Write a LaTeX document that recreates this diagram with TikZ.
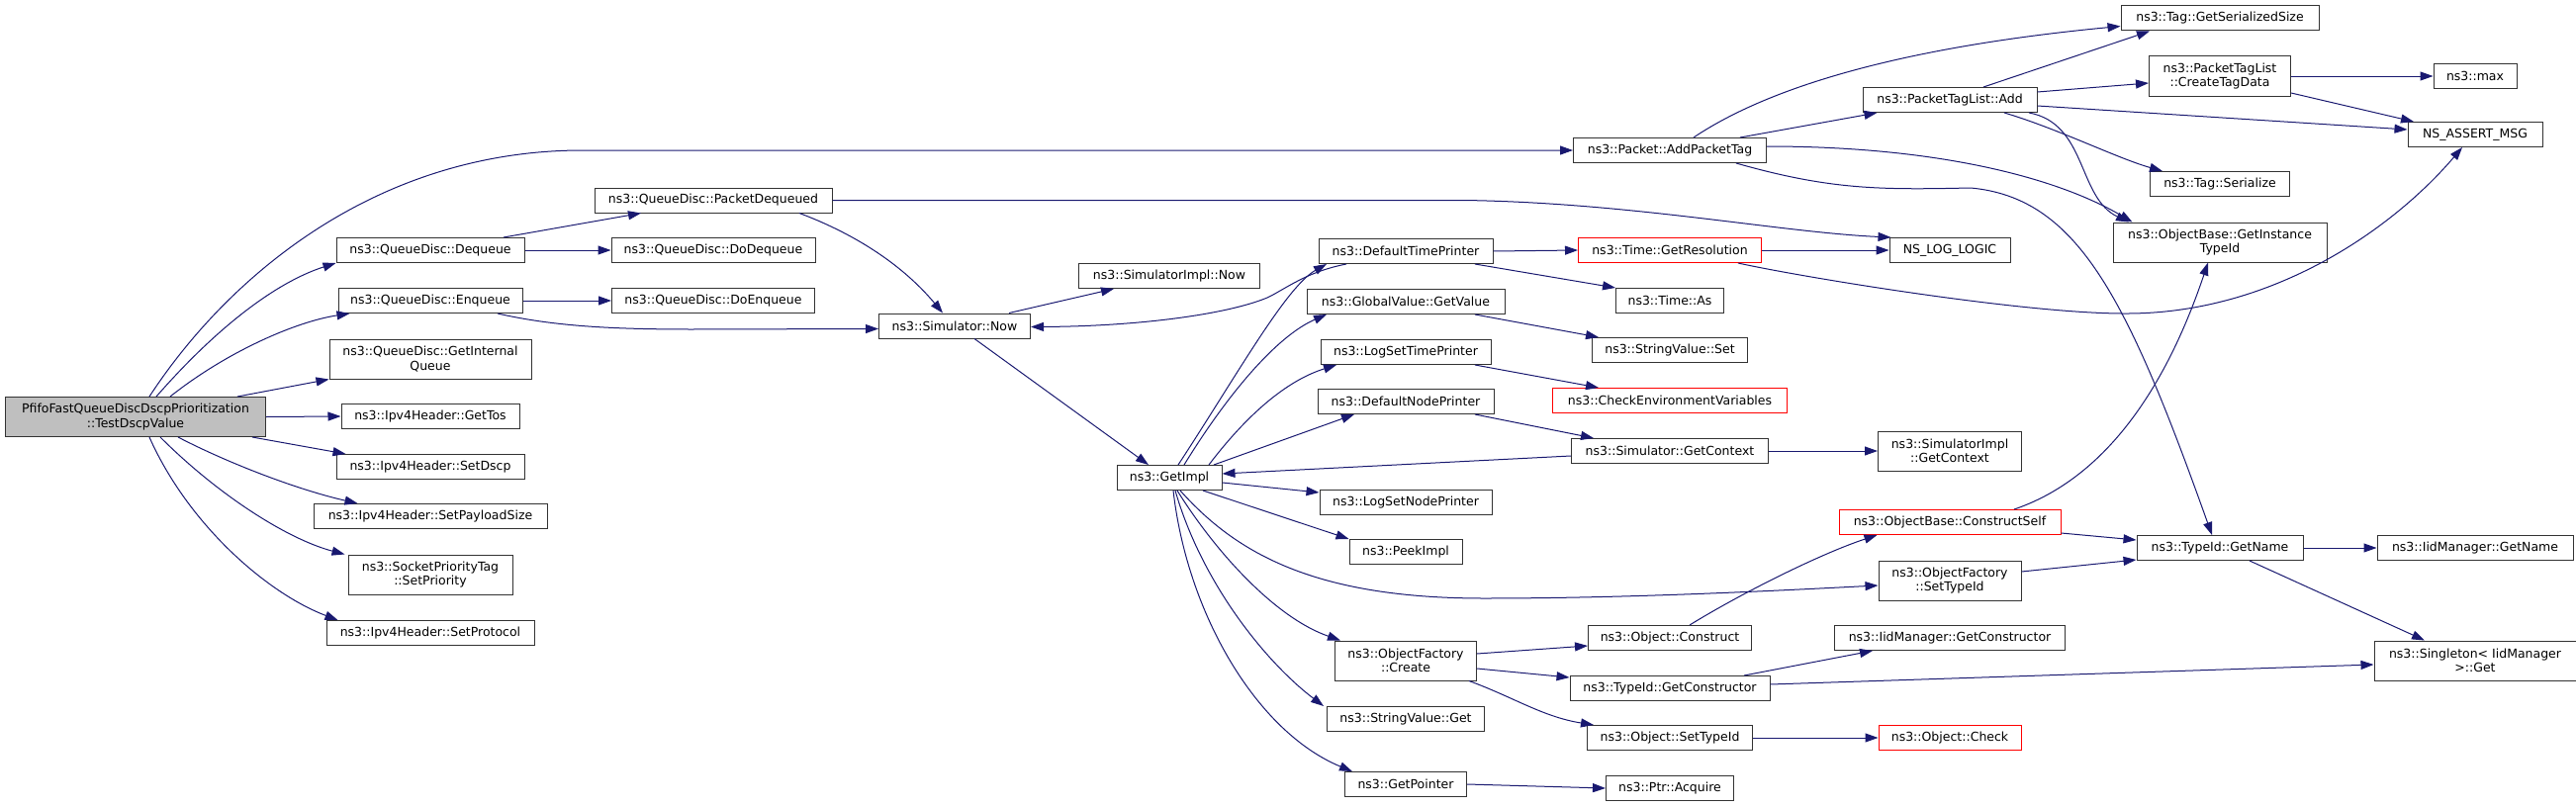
\documentclass[tikz,border=0pt]{standalone}
\usepackage{fontspec}
\setmainfont{DejaVu Sans}
\usetikzlibrary{arrows.meta}
\definecolor{edgeblue}{HTML}{191970}
\definecolor{rootgray}{HTML}{BFBFBF}

\begin{document}
\begin{tikzpicture}[x=1pt, y=-1pt,
    fn/.style={draw=black!80, line width=1pt, fill=white, minimum height=25pt, inner sep=2pt, align=center, font=\fontsize{12.5}{14.5}\selectfont},
    fn2/.style={fn, minimum height=40pt},
    hot/.style={draw=red},
    call/.style={-{Triangle[length=13pt,width=9pt]}, edgeblue, line width=1pt}
]
\useasboundingbox (0,0) rectangle (2604,816);

\node[fn2, fill=rootgray, minimum width=263pt] (root) at (137,421.5) {PfifoFastQueueDiscDscpPrioritization\\::TestDscpValue};

\node[fn, minimum width=190pt] (deq) at (435,253) {ns3::QueueDisc::Dequeue};
\node[fn, minimum width=186pt] (enq) at (435,304) {ns3::QueueDisc::Enqueue};
\node[fn2, minimum width=204pt] (gint) at (435,363) {ns3::QueueDisc::GetInternal\\Queue};
\node[fn, minimum width=180pt] (gettos) at (435,421) {ns3::Ipv4Header::GetTos};
\node[fn, minimum width=190pt] (setdscp) at (435,472) {ns3::Ipv4Header::SetDscp};
\node[fn, minimum width=236pt] (setpay) at (435,522) {ns3::Ipv4Header::SetPayloadSize};
\node[fn2, minimum width=166pt] (setprio) at (435,581) {ns3::SocketPriorityTag\\::SetPriority};
\node[fn, minimum width=210pt] (setproto) at (435,640) {ns3::Ipv4Header::SetProtocol};

\node[fn, minimum width=240pt] (pdeq) at (721,202.5) {ns3::QueueDisc::PacketDequeued};
\node[fn, minimum width=206pt] (dodeq) at (721,253) {ns3::QueueDisc::DoDequeue};
\node[fn, minimum width=205pt] (doenq) at (721,304) {ns3::QueueDisc::DoEnqueue};

\node[fn, minimum width=153pt] (simnow) at (965,329.5) {ns3::Simulator::Now};
\node[fn, minimum width=183pt] (implnow) at (1182,279) {ns3::SimulatorImpl::Now};
\node[fn, minimum width=106pt] (getimpl) at (1182,483) {ns3::GetImpl};

\node[fn, minimum width=176pt] (dtp) at (1421,254) {ns3::DefaultTimePrinter};
\node[fn, minimum width=200pt] (gval) at (1421,305) {ns3::GlobalValue::GetValue};
\node[fn, minimum width=172pt] (lstp) at (1421,356) {ns3::LogSetTimePrinter};
\node[fn, minimum width=178pt] (dnp) at (1421,406) {ns3::DefaultNodePrinter};
\node[fn, minimum width=174pt] (lsnp) at (1421,508) {ns3::LogSetNodePrinter};
\node[fn, minimum width=114pt] (peek) at (1421,558) {ns3::PeekImpl};
\node[fn2, minimum width=143pt] (ofcreate) at (1421,668) {ns3::ObjectFactory\\::Create};
\node[fn, minimum width=159pt] (svget) at (1421,727) {ns3::StringValue::Get};
\node[fn, minimum width=123pt] (getptr) at (1421,793) {ns3::GetPointer};

\node[fn, minimum width=195pt] (addtag) at (1688,152) {ns3::Packet::AddPacketTag};
\node[fn, hot, minimum width=185pt] (getres) at (1688,253) {ns3::Time::GetResolution};
\node[fn, minimum width=109pt] (timeas) at (1688,304) {ns3::Time::As};
\node[fn, minimum width=157pt] (svset) at (1688,354) {ns3::StringValue::Set};
\node[fn, hot, minimum width=237pt] (checkenv) at (1688,405) {ns3::CheckEnvironmentVariables};
\node[fn, minimum width=199pt] (getctx) at (1688,456) {ns3::Simulator::GetContext};
\node[fn, minimum width=165pt] (construct) at (1688,645) {ns3::Object::Construct};
\node[fn, minimum width=202pt] (getctor) at (1688,696) {ns3::TypeId::GetConstructor};
\node[fn, minimum width=167pt] (settid) at (1688,746) {ns3::Object::SetTypeId};
\node[fn, minimum width=129pt] (acquire) at (1688,797) {ns3::Ptr::Acquire};

\node[fn, minimum width=176pt] (ptladd) at (1971,101) {ns3::PacketTagList::Add};
\node[fn, minimum width=122pt] (nslog) at (1971,253) {NS\_LOG\_LOGIC};
\node[fn2, minimum width=145pt] (implctx) at (1971,456) {ns3::SimulatorImpl\\::GetContext};
\node[fn, hot, minimum width=224pt] (cself) at (1971,528) {ns3::ObjectBase::ConstructSelf};
\node[fn2, minimum width=144pt] (ofsettid) at (1971,587) {ns3::ObjectFactory\\::SetTypeId};
\node[fn, minimum width=233pt] (iidctor) at (1971,645) {ns3::IidManager::GetConstructor};
\node[fn, hot, minimum width=144pt] (check) at (1971,746) {ns3::Object::Check};

\node[fn, minimum width=200pt] (gss) at (2244,18.5) {ns3::Tag::GetSerializedSize};
\node[fn2, minimum width=143pt] (ctd) at (2244,77) {ns3::PacketTagList\\::CreateTagData};
\node[fn, minimum width=141pt] (tagser) at (2244,186) {ns3::Tag::Serialize};
\node[fn2, minimum width=216pt] (gitid) at (2244,245) {ns3::ObjectBase::GetInstance\\TypeId};
\node[fn, minimum width=168pt] (tidname) at (2244,554) {ns3::TypeId::GetName};

\node[fn, minimum width=84pt] (max) at (2502,77) {ns3::max};
\node[fn, minimum width=136pt] (assert) at (2502,136) {NS\_ASSERT\_MSG};
\node[fn, minimum width=198pt] (iidname) at (2502,554) {ns3::IidManager::GetName};
\node[fn2, minimum width=204pt] (singleton) at (2502,668) {ns3::Singleton< IidManager\\>::Get};

\draw[call] ([xshift=14pt]root.north) .. controls (230,280) and (380,152) .. (589,152) -- (addtag.west);
\draw[call] ([xshift=21pt]root.north) .. controls (220,330) and (280,285) .. (deq.south west);
\draw[call] ([xshift=35pt]root.north) .. controls (230,355) and (300,325) .. ([xshift=12pt]enq.south west);
\draw[call] ([xshift=103pt]root.north) -- (gint.south west);
\draw[call] (root.east) -- (gettos.west);
\draw[call] ([xshift=118pt]root.south) -- ([xshift=10pt]setdscp.north west);
\draw[call] ([xshift=43pt]root.south) .. controls (230,468) and (300,495) .. ([xshift=45pt]setpay.north west);
\draw[call] ([xshift=25pt]root.south) .. controls (220,500) and (290,545) .. ([xshift=-3pt]setprio.north west);
\draw[call] ([xshift=14pt]root.south) .. controls (190,530) and (270,600) .. ([xshift=12pt]setproto.north west);

\draw[call] ([xshift=74pt]deq.north) -- ([xshift=-73pt]pdeq.south);
\draw[call] (deq.east) -- (dodeq.west);
\draw[call] (enq.east) -- (doenq.west);
\draw[call] ([xshift=68pt]enq.south) .. controls (560,330) and (620,333) .. (700,333) -- ([yshift=-3pt]simnow.west);
\draw[call] ([xshift=87pt]pdeq.south) .. controls (860,235) and (910,265) .. ([xshift=-12pt]simnow.north);
\draw[call] (pdeq.east) -- (1480,202.5) .. controls (1650,205) and (1800,235) .. ([xshift=2pt]nslog.north west);

\draw[call] ([xshift=55pt]simnow.north) -- ([xshift=-56pt]implnow.south);
\draw[call] ([xshift=20pt]simnow.south) -- ([xshift=-21pt]getimpl.north);
\draw[call] ([xshift=-60pt]dtp.south) .. controls (1320,275) and (1300,292) .. (1281,301) .. controls (1240,318) and (1150,330) .. ([yshift=-1pt]simnow.east);

\draw[call] ([xshift=9pt]getimpl.north) .. controls (1250,380) and (1300,290) .. ([xshift=-80pt]dtp.south);
\draw[call] ([xshift=15pt]getimpl.north) .. controls (1240,400) and (1290,340) .. ([xshift=-80pt]gval.south);
\draw[call] ([xshift=40pt]getimpl.north) .. controls (1260,420) and (1300,385) .. ([xshift=-70pt]lstp.south);
\draw[call] ([xshift=45pt]getimpl.north) -- ([xshift=-52pt]dnp.south);
\draw[call] ([yshift=-5pt]getctx.west) -- ([yshift=4pt]getimpl.east);
\draw[call] ([yshift=-5pt]getimpl.east) -- ([yshift=10pt]lsnp.west);
\draw[call] ([xshift=34pt]getimpl.south) -- (peek.north west);
\draw[call] ([xshift=11pt]getimpl.south) .. controls (1250,560) and (1330,605) .. (1500,605) .. controls (1650,605) and (1800,597) .. ([yshift=-5pt]ofsettid.west);
\draw[call] ([xshift=8pt]getimpl.south) .. controls (1230,560) and (1290,625) .. ([xshift=-66pt]ofcreate.north);
\draw[call] ([xshift=6pt]getimpl.south) .. controls (1215,590) and (1280,670) .. ([xshift=-83pt]svget.north);
\draw[call] ([xshift=4pt]getimpl.south) .. controls (1200,620) and (1270,740) .. ([xshift=-54pt]getptr.north);

\draw[call] (dtp.east) -- (getres.west);
\draw[call] ([xshift=70pt]dtp.south) -- (timeas.north west);
\draw[call] ([xshift=70pt]gval.south) -- ([xshift=-72pt]svset.north);
\draw[call] ([xshift=70pt]lstp.south) -- ([xshift=-72pt]checkenv.north);
\draw[call] ([xshift=70pt]dnp.south) -- ([xshift=-77pt]getctx.north);
\draw[call] (getctx.east) -- (implctx.west);
\draw[call] (getres.east) -- (nslog.west);
\draw[call] ([xshift=69pt]getres.south) .. controls (1820,280) and (2050,318) .. (2152,317) .. controls (2300,316) and (2420,230) .. ([xshift=-13pt]assert.south);

\draw[call] ([xshift=24pt]addtag.north) .. controls (1800,80) and (1950,45) .. ([yshift=-8pt]gss.west);
\draw[call] ([xshift=71pt]addtag.north) -- ([xshift=15pt]ptladd.south west);
\draw[call] ([yshift=4pt]addtag.east) .. controls (1960,148) and (2080,180) .. ([xshift=20pt]gitid.north west);
\draw[call] ([xshift=67pt]addtag.south) .. controls (1850,192) and (1900,192) .. (1992,190) .. controls (2100,200) and (2150,300) .. ([xshift=-8pt]tidname.north);

\draw[call] ([xshift=34pt]ptladd.north) -- ([xshift=-71pt]gss.south);
\draw[call] ([yshift=8pt]ptladd.east) -- ([yshift=-7pt]ctd.west);
\draw[call] ([yshift=-6pt]ptladd.east) -- ([yshift=5pt]assert.west);
\draw[call] ([xshift=55pt]ptladd.south) .. controls (2080,130) and (2140,160) .. ([xshift=-58pt]tagser.north);
\draw[call] ([xshift=80pt]ptladd.south) .. controls (2110,125) and (2100,200) .. ([xshift=-92pt]gitid.north);
\draw[call] (ctd.east) -- (max.west);
\draw[call] ([yshift=-17pt]ctd.east) -- ([xshift=-62pt]assert.north);

\draw[call] ([xshift=65pt]cself.north) .. controls (2110,490) and (2180,420) .. ([xshift=-12pt]gitid.south);
\draw[call] ([yshift=-11pt]cself.east) -- ([yshift=8pt]tidname.west);
\draw[call] ([yshift=9pt]ofsettid.east) -- ([yshift=-12pt]tidname.west);
\draw[call] ([xshift=20pt]construct.north) .. controls (1760,600) and (1840,560) .. ([xshift=39pt]cself.south west);
\draw[call] ([yshift=7pt]ofcreate.east) -- ([yshift=-8pt]construct.west);
\draw[call] ([yshift=-8pt]ofcreate.east) -- ([yshift=11pt]getctor.west);
\draw[call] ([xshift=64pt]ofcreate.south) .. controls (1530,705) and (1560,725) .. ([xshift=-77pt]settid.north);
\draw[call] ([xshift=75pt]getctor.north) -- ([xshift=-78pt]iidctor.south);
\draw[call] ([yshift=4pt]getctor.east) -- ([yshift=-4pt]singleton.west);
\draw[call] (settid.east) -- (check.west);
\draw[call] (getptr.east) -- (acquire.west);
\draw[call] (tidname.east) -- (iidname.west);
\draw[call] ([xshift=30pt]tidname.south) -- ([xshift=-51pt]singleton.north);
\end{tikzpicture}
\end{document}
